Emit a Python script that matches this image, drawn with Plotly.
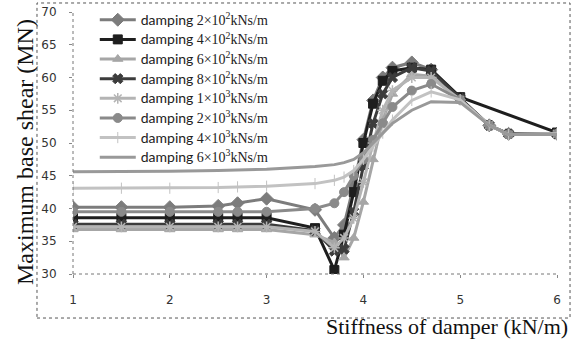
import plotly.graph_objects as go

# ---------------- data ----------------
x_common = [1, 1.5, 2, 2.5, 2.7, 3, 3.5, 3.7, 3.8, 3.9, 4.0, 4.1, 4.2, 4.3, 4.5, 4.7, 5.0, 5.3, 5.5, 6.0]
x_s2 = [1, 1.5, 2, 2.5, 2.7, 3, 3.5, 3.7, 3.8, 3.9, 4.0, 4.1, 4.2, 4.3, 4.5, 4.7, 5.0, 6.0]

s1 = [40.2, 40.2, 40.2, 40.4, 40.8, 41.5, 39.8, 35.5, 37.5, 43.5, 50.5, 56.5, 60.0, 61.5, 62.3, 61.2, 56.8, 52.7, 51.4, 51.4]
s2 = [38.6, 38.6, 38.6, 38.6, 38.7, 38.6, 37.0, 30.6, 36.0, 42.5, 50.0, 56.0, 59.5, 61.0, 61.5, 61.2, 57.0, 51.6]
s3 = [36.8, 36.8, 36.8, 36.8, 36.8, 36.8, 36.0, 34.8, 32.5, 35.5, 41.0, 47.5, 53.5, 57.5, 60.5, 60.2, 56.6, 52.7, 51.3, 51.4]
s4 = [37.6, 37.6, 37.6, 37.6, 37.6, 37.6, 36.6, 33.5, 33.8, 39.5, 46.5, 53.0, 57.5, 60.0, 61.5, 61.0, 56.8, 52.7, 51.4, 51.4]
s5 = [37.2, 37.2, 37.2, 37.2, 37.2, 37.2, 36.5, 34.0, 35.5, 38.5, 44.0, 50.0, 55.0, 58.0, 60.0, 60.0, 56.6, 52.7, 51.3, 51.4]
s6 = [39.5, 39.5, 39.5, 39.5, 39.5, 39.5, 40.0, 40.8, 42.5, 45.0, 47.5, 50.5, 53.0, 55.5, 58.0, 59.0, 56.6, 52.7, 51.3, 51.4]
s7 = [43.1, 43.1, 43.1, 43.2, 43.3, 43.4, 43.8, 44.3, 44.8, 45.8, 47.5, 49.5, 51.5, 53.5, 56.5, 57.8, 56.6, 52.7, 51.3, 51.4]
s8 = [45.6, 45.6, 45.7, 45.8, 45.9, 46.0, 46.4, 46.7, 47.0, 47.5, 48.5, 50.0, 51.5, 53.0, 55.0, 56.3, 56.2, 52.7, 51.3, 51.3]

coeffs = ["2", "4", "6", "8", "1", "2", "4", "6"]
exps = ["2", "2", "2", "2", "3", "3", "3", "3"]

series = [
    (x_common, s1, "#7c7c7c", "diamond", 10, 1),
    (x_s2, s2, "#1e1e1e", "square", 9, 1),
    (x_common, s3, "#a6a6a6", "triangle-up", 9, 1),
    (x_common, s4, "#3c3c3c", "x", 9, 1),
    (x_common, s5, "#b4b4b4", "asterisk-open", 9, 1.5),
    (x_common, s6, "#8a8a8a", "circle", 9, 1),
    (x_common, s7, "#c2c2c2", "line-ns-open", 8, 1),
    (x_common, s8, "#999999", None, 0, 1),
]

fig = go.Figure()
for i, (xs, ys, col, sym, msize, mlw) in enumerate(series):
    name = ('<span style="font-size:14px">damping</span> '
            '<span style="font-family:\'Liberation Serif\';font-size:14px">'
            + coeffs[i] + '×10<sup>' + exps[i] + '</sup>kNs/m</span>')
    if sym is None:
        fig.add_trace(go.Scatter(x=xs, y=ys, mode="lines", name=name,
                                 line=dict(color=col, width=3)))
    else:
        fig.add_trace(go.Scatter(x=xs, y=ys, mode="lines+markers", name=name,
                                 line=dict(color=col, width=3),
                                 marker=dict(symbol=sym, size=msize, color=col,
                                             line=dict(color=col, width=mlw))))

fig.update_layout(
    width=574, height=344,
    margin=dict(l=73, r=17, t=12, b=70, autoexpand=False),
    paper_bgcolor="white", plot_bgcolor="white",
    showlegend=True,
    legend=dict(x=0.045, y=1.027, xanchor="left", yanchor="top",
                bgcolor="rgba(0,0,0,0)", borderwidth=0, maxheight=400,
                font=dict(family="Lato", size=12.8, color="#222"),
                itemwidth=36, tracegroupgap=0),
    xaxis=dict(range=[1, 6], tickvals=[1, 2, 3, 4, 5, 6], showgrid=False,
               zeroline=False, showline=False, ticks="outside", ticklen=3,
               tickcolor="#888", ticklabelstandoff=12,
               tickfont=dict(family="DejaVu Sans", size=12, color="#333")),
    yaxis=dict(range=[30, 70], dtick=5, showgrid=False, zeroline=False,
               showline=False, ticks="outside", ticklen=3, tickcolor="#888",
               ticklabelstandoff=10,
               tickfont=dict(family="DejaVu Sans", size=12, color="#333")),
    shapes=[
        dict(type="rect", xref="paper", yref="paper", x0=-0.0744, x1=1.0269,
             y0=-0.168, y1=1.0344, line=dict(color="#555", width=1, dash="dot")),
        dict(type="line", xref="paper", yref="paper", x0=0, x1=1, y0=0, y1=0,
             line=dict(color="#777", width=1, dash="dot")),
        dict(type="line", xref="paper", yref="paper", x0=0, x1=0, y0=0, y1=1,
             line=dict(color="#777", width=1, dash="dot")),
    ],
    annotations=[
        dict(text="Maximum base shear (MN)", xref="paper", yref="paper",
             x=-0.099, y=0.466, xanchor="center", yanchor="middle", textangle=-90,
             showarrow=False, font=dict(family="Liberation Serif", size=24, color="#111")),
        dict(text="Stiffness of damper (kN/m)", xref="paper", yref="paper",
             x=1.027, y=-0.202, xanchor="right", yanchor="middle",
             showarrow=False, font=dict(family="Liberation Serif", size=22, color="#111")),
    ],
)

fig.write_html("out.html")
